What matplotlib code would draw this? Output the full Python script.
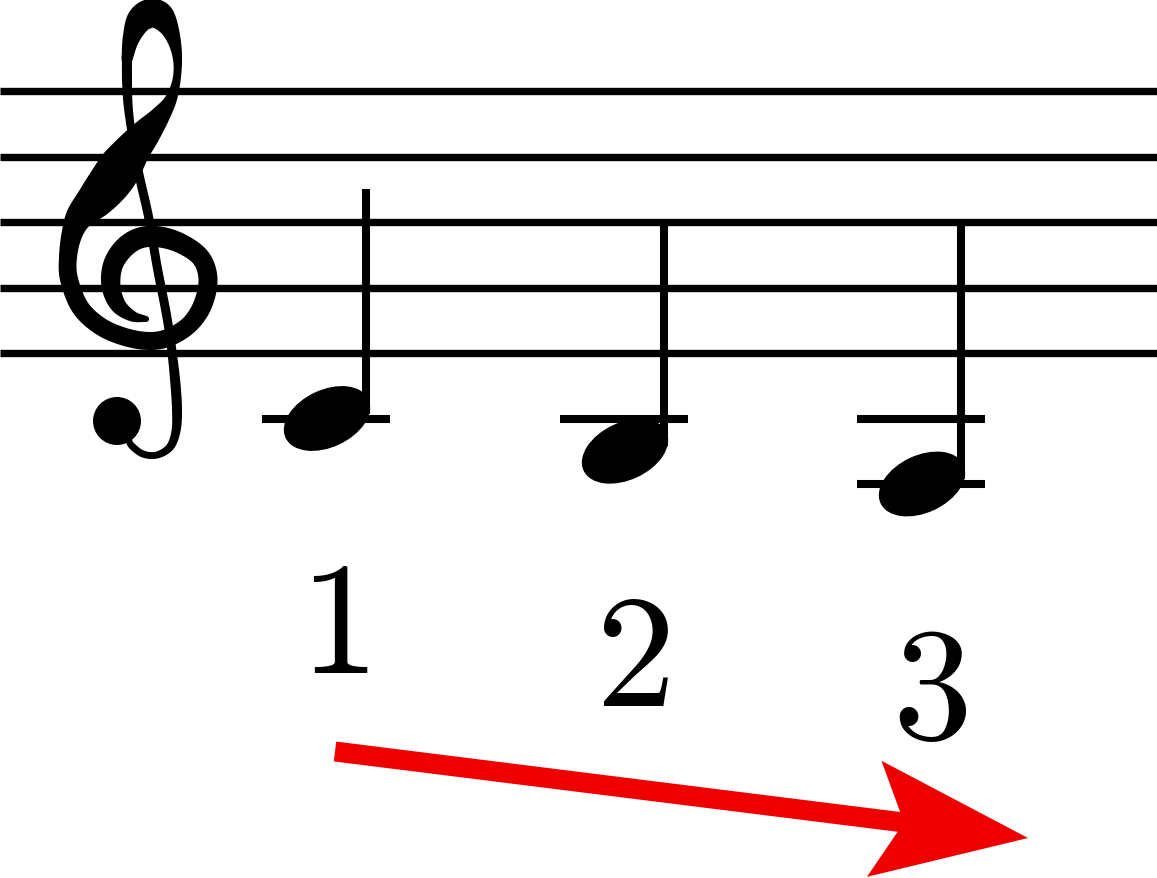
import matplotlib
matplotlib.use('Agg')
import numpy as np
import matplotlib.pyplot as plt
from matplotlib.patches import Ellipse, Polygon, Circle

plt.rcParams['mathtext.fontset'] = 'cm'

# staff geometry (pixels), bottom line = E4
staff_bottom = 354
space = 65.5
staff_lines = [0, 1, 2, 3, 4]          # lines counted up from the bottom
# notes as diatonic steps relative to bottom line (E4): C4, B3, A3
note_steps = [-2, -3, -4]
note_x = [327, 625, 922]
labels = ['1', '2', '3']

# treble clef outline, drawn as thick strokes along a spine (x, y, width)
clef_curl = [
    (146, 320, 6), (132, 317, 11), (118, 306, 16), (111, 287, 19), (113, 266, 20),
    (124, 249, 21), (140, 239, 21), (160, 238, 21), (182, 245, 20), (201, 259, 19),
    (208, 280, 19), (203, 305, 19), (190, 325, 18), (170, 338, 18), (150, 342, 18),
    (125, 338, 18), (100, 327, 18), (80, 308, 18), (69, 280, 18), (68, 258, 18),
    (72, 235, 21), (80, 217, 28), (96, 200, 38), (110, 183, 43), (121, 167, 43),
    (133, 150, 36), (147, 133, 29), (160, 117, 20), (171, 100, 12), (177, 78, 8),
    (177, 55, 10), (171, 33, 17), (161, 18, 28), (150, 15, 30), (139, 22, 26),
    (131, 40, 17), (127, 60, 11),
]
clef_stem = [
    (127, 55, 10), (127, 80, 10), (128, 105, 9), (131, 130, 8), (135, 155, 8),
    (140, 180, 9), (149, 220, 9), (157, 267, 9), (166, 313, 9), (171, 345, 9),
    (175, 380, 10), (177, 410, 10), (176, 432, 9), (170, 448, 8), (157, 456, 7),
    (143, 455, 7), (132, 447, 7), (128, 440, 6),
]
clef_ball = (117, 422, 24)

fig = plt.figure(figsize=(11.57, 8.79), dpi=100)
ax = fig.add_axes([0, 0, 1, 1])
ax.set_xlim(0, 1157)
ax.set_ylim(879, 0)
ax.axis('off')


def step_y(step):
    return staff_bottom - step * space / 2


def stroke(pts, n=12):
    P = np.array(pts, float)
    P = np.vstack([2 * P[0] - P[1], P, 2 * P[-1] - P[-2]])
    out = []
    for i in range(1, len(P) - 2):
        p0, p1, p2, p3 = P[i - 1], P[i], P[i + 1], P[i + 2]
        for t in np.linspace(0, 1, n, endpoint=False):
            out.append(0.5 * (2 * p1 + (p2 - p0) * t
                              + (2 * p0 - 5 * p1 + 4 * p2 - p3) * t ** 2
                              + (3 * p1 - p0 - 3 * p2 + p3) * t ** 3))
    out.append(P[-2])
    Q = np.array(out)
    xy, w = Q[:, :2], Q[:, 2]
    d = np.gradient(xy, axis=0)
    d /= np.linalg.norm(d, axis=1)[:, None]
    nrm = np.stack([-d[:, 1], d[:, 0]], 1) * (w[:, None] / 2)
    poly = np.vstack([xy + nrm, (xy - nrm)[::-1]])
    ax.add_patch(Polygon(poly, closed=True, color='black', lw=0))
    for k in (0, -1):
        ax.add_patch(Circle(xy[k], w[k] / 2, color='black', lw=0))


for ln in staff_lines:
    ax.plot([0, 1157], [step_y(2 * ln)] * 2, color='black', lw=5.3, solid_capstyle='butt')

stroke(clef_curl)
stroke(clef_stem)
ax.add_patch(Circle(clef_ball[:2], clef_ball[2], color='black', lw=0))

for s, x, lab in zip(note_steps, note_x, labels):
    y = step_y(s)
    # ledger lines
    for ls in range(-2, s - 1, -2):
        ax.plot([x - 65, x + 63], [step_y(ls)] * 2, color='black', lw=5.8, solid_capstyle='butt')
    ax.add_patch(Ellipse((x, y), 90, 56, angle=-25, color='black'))
    top = min(y - 3.5 * space, step_y(4))
    ax.plot([x + 39, x + 39], [y - 5, top], color='black', lw=5.8, solid_capstyle='butt')
    ax.text(x + 7, y + 209, '$' + lab + '$', fontsize=115, ha='center', va='center')

# arrow from under the first label to past the last note
x0, y0 = note_x[0] + 8, step_y(note_steps[0]) + 333
x1, y1 = note_x[-1] + 106, step_y(note_steps[-1]) + 354
u = np.array([x1 - x0, y1 - y0], float)
u /= np.linalg.norm(u)
nv = np.array([-u[1], u[0]])
start, tip = np.array([x0, y0]), np.array([x1, y1])
red = '#ee0000'
shaft_end = tip - u * 120
ax.add_patch(Polygon([start + nv * 10, shaft_end + nv * 10, shaft_end - nv * 10, start - nv * 10],
                     closed=True, color=red, lw=0))
ax.add_patch(Polygon([tip, tip - u * 155 + nv * 58.5, tip - u * 125, tip - u * 155 - nv * 58.5],
                     closed=True, color=red, lw=0))

fig.savefig('out.png', dpi=100)
